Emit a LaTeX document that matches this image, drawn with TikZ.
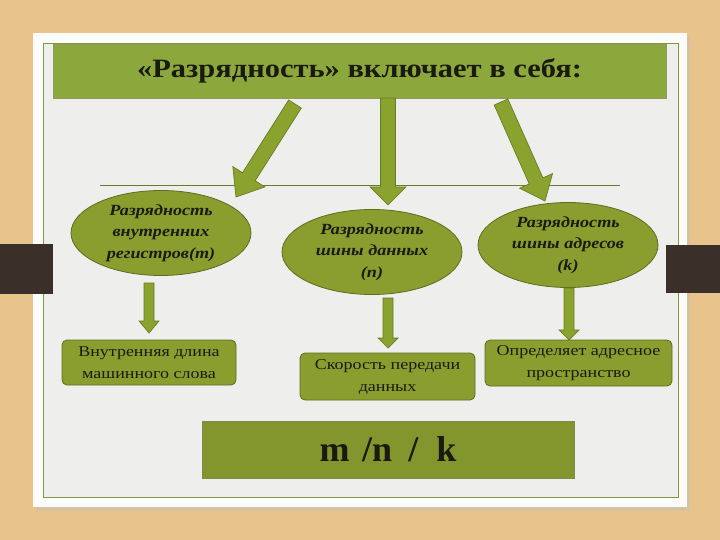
\documentclass[tikz,border=0pt]{standalone}
\usepackage{fontspec}
\setmainfont{Liberation Serif}
\newfontfamily\titlefont[FakeStretch=1.15]{Liberation Serif}
\newfontfamily\ellfont[FakeStretch=1.17]{Liberation Serif}
\newfontfamily\boxfont[FakeStretch=1.2]{Liberation Serif}
\usetikzlibrary{shapes.geometric,calc}
\definecolor{wood}{HTML}{E8C48C}
\definecolor{panel}{HTML}{EEEEEC}
\definecolor{frameline}{HTML}{7E9A3A}
\definecolor{titlegreen}{HTML}{8CA83C}
\definecolor{olive}{HTML}{8A9D2F}
\definecolor{oliveedge}{HTML}{5F6C1E}
\definecolor{arrowfill}{HTML}{8AA22E}
\definecolor{arrowedge}{HTML}{6A7C22}
\definecolor{darkbar}{HTML}{3B2F29}
\definecolor{txt}{HTML}{1A1A10}
\tikzset{
  ellbox/.style={ellipse, draw=oliveedge, line width=0.8pt, fill=olive, minimum width=180pt, minimum height=85pt, inner sep=0pt, align=center, font=\ellfont\fontsize{15.5}{21.5}\selectfont\bfseries\itshape, text=txt},
  rectbox/.style={rounded corners=5pt, draw=oliveedge, line width=0.8pt, fill=olive, align=center, inner sep=0pt, font=\boxfont\fontsize{15}{22}\selectfont, text=txt},
  blockarr/.style={fill=arrowfill, draw=arrowedge, line width=0.7pt, line join=miter}
}
\newcommand{\blockarrow}[5]{%
  \coordinate (H) at ($(#2)!#5!(#1)$);
  \draw[blockarr] ($(#1)!#3!-90:(#2)$) -- ($(H)!#3!90:(#1)$) -- ($(H)!#4!90:(#1)$) -- (#2)
    -- ($(H)!#4!-90:(#1)$) -- ($(H)!#3!-90:(#1)$) -- ($(#1)!#3!90:(#2)$) -- cycle;
}
\begin{document}
\begin{tikzpicture}[x=1pt,y=-1pt]
\useasboundingbox (0,0) rectangle (720,540);
\fill[wood] (0,0) rectangle (720,540);
% panel
\fill[black!25,opacity=0.4] (36,37) rectangle (690,511);
\fill[white!98!gray] (33,33) rectangle (687,507);
\fill[panel] (43,43) rectangle (678,497);
\draw[frameline, line width=0.8pt] (43,43) rectangle (678,497);
% dark bars
\fill[darkbar] (0,244) rectangle (53,294);
\fill[darkbar] (666,245) rectangle (720,293);
% title
\node[fill=titlegreen, draw=oliveedge!70, line width=0.4pt, minimum width=613pt, minimum height=54pt, inner sep=0pt, font=\titlefont\fontsize{26.5}{28}\selectfont\bfseries, text=txt] (title) at (359.5,71) {«Разрядность» включает в себя:};
% separator line
\draw[frameline!80!black, line width=0.6pt] (100,185) coordinate (l1) -- (620,185) coordinate (l2);
% ellipses
\node[ellbox] (e1) at (161,233) {Разрядность\\внутренних\\регистров(m)};
\node[ellbox] (e2) at (372,252) {Разрядность\\шины данных\\(n)};
\node[ellbox] (e3) at (568,245) {Разрядность\\шины адресов\\(k)};
% boxes
\node[rectbox, minimum width=174pt, minimum height=45pt] (b1) at (149,362.5) {Внутренняя длина\\машинного слова};
\node[rectbox, minimum width=175pt, minimum height=47pt] (b2) at (387.5,376.5) {Скорость передачи\\данных};
\node[rectbox, minimum width=187pt, minimum height=46pt] (b3) at (578.5,363) {Определяет адресное\\пространство};
\node[fill=olive!95!black, draw=oliveedge!80, line width=0.5pt, minimum width=372pt, minimum height=57pt, inner sep=0pt, font=\fontsize{36}{36}\selectfont\bfseries, text=txt] (res) at (388,449.5) {m\hspace{0.35em}/n\hspace{0.45em}/\hspace{0.5em}k};
% big arrows
\coordinate (a1s) at (295,104); \coordinate (a1e) at (236,197);
\coordinate (a2s) at (388,98); \coordinate (a2e) at (388,205);
\coordinate (a3s) at (501,102); \coordinate (a3e) at (545,201);
\blockarrow{a1s}{a1e}{7.5pt}{19pt}{24pt}
\blockarrow{a2s}{a2e}{7.5pt}{18pt}{18pt}
\blockarrow{a3s}{a3e}{7.5pt}{18pt}{22pt}
% small arrows
\coordinate (s1s) at (149,283); \coordinate (s1e) at (149,333);
\coordinate (s2s) at (388,298); \coordinate (s2e) at (388,348);
\coordinate (s3s) at (569,288); \coordinate (s3e) at (569,340);
\blockarrow{s1s}{s1e}{5pt}{10pt}{12pt}
\blockarrow{s2s}{s2e}{5pt}{10pt}{10pt}
\blockarrow{s3s}{s3e}{5pt}{10pt}{10pt}
\end{tikzpicture}
\end{document}
